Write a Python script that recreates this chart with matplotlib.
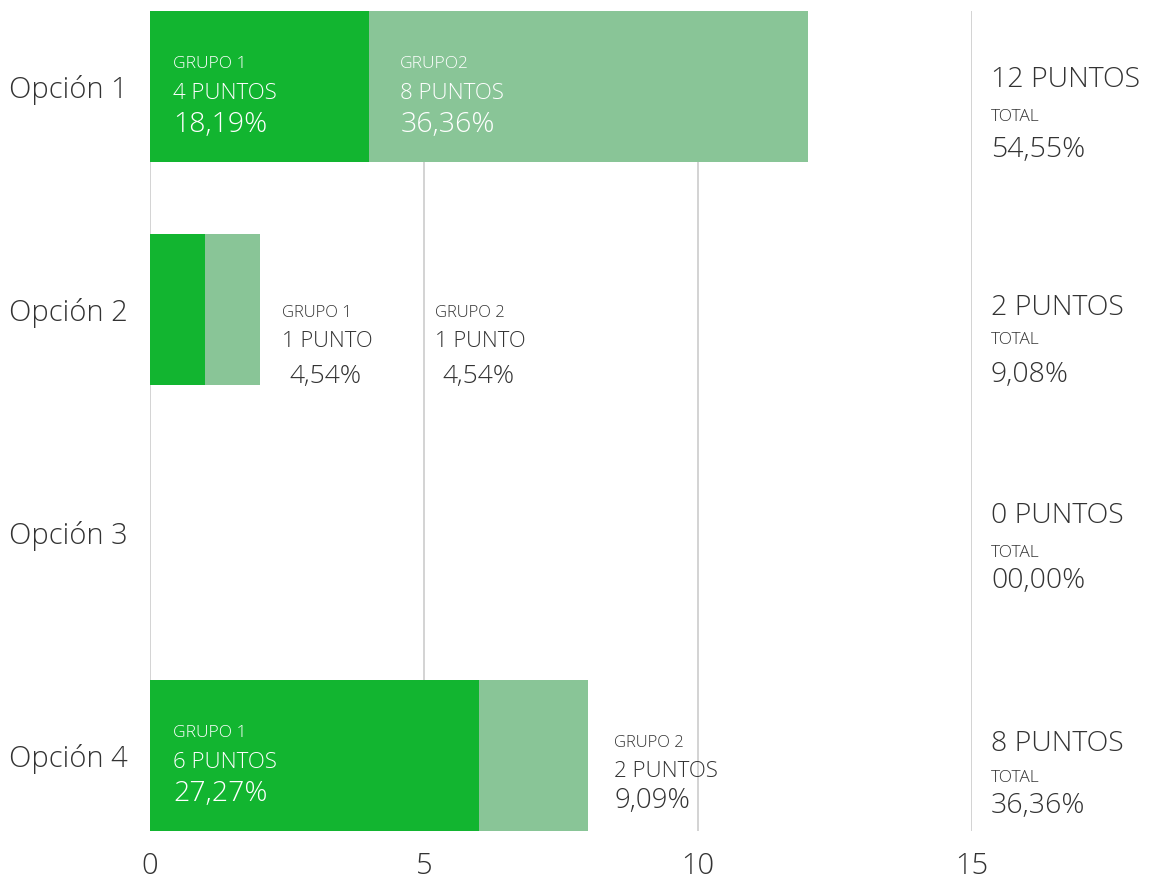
import matplotlib
matplotlib.use("Agg")
import matplotlib.pyplot as plt
from matplotlib import font_manager

# ---- data ---------------------------------------------------------------
categories = ["Opción 1", "Opción 2", "Opción 3", "Opción 4"]
grupo1 = [4, 1, 0, 6]
grupo2 = [8, 1, 0, 2]
grupo1_pct = ["18,19%", "4,54%", "", "27,27%"]
grupo2_pct = ["36,36%", "4,54%", "", "9,09%"]
grupo1_name = ["GRUPO 1", "GRUPO 1", "", "GRUPO 1"]
grupo2_name = ["GRUPO2", "GRUPO 2", "", "GRUPO 2"]
total_pct = ["54,55%", "9,08%", "00,00%", "36,36%"]
x_ticks = [0, 5, 10, 15]

# ---- style --------------------------------------------------------------
DARK = "#12b530"
LIGHT = "#89c597"
TEXT = "#333333"
GRID = "#cccccc"

names = {f.name for f in font_manager.fontManager.ttflist}
FAMILY = ["Open Sans", "DejaVu Sans"] if "Open Sans" in names else ["DejaVu Sans"]
plt.rcParams["font.family"] = FAMILY
plt.rcParams["font.weight"] = "light"

fig = plt.figure(figsize=(11.52, 8.8), dpi=100)
ax = fig.add_axes([150 / 1152, 49 / 880, 822 / 1152, 820 / 880])

ypos = list(range(len(categories)))
bar_h = 0.677
ax.barh(ypos, grupo1, height=bar_h, color=DARK, zorder=2)
ax.barh(ypos, grupo2, left=grupo1, height=bar_h, color=LIGHT, zorder=2)

ax.set_xlim(0, 15)
ax.set_ylim(len(categories) - 1 + bar_h / 2, -bar_h / 2)
ax.set_xticks(x_ticks)
ax.set_xticklabels([str(t) for t in x_ticks])
ax.set_yticks(ypos)
ax.set_yticklabels(categories)
ax.tick_params(axis="x", length=0, pad=15, labelsize=21, labelcolor=TEXT)
ax.tick_params(axis="y", length=0, pad=16, labelsize=21, labelcolor=TEXT)
for lab in ax.get_xticklabels() + ax.get_yticklabels():
    lab.set_fontweight("light")
for s in ax.spines.values():
    s.set_visible(False)
ax.grid(axis="x", color=GRID, linewidth=1.2, zorder=0)
ax.set_axisbelow(True)

PX = 72 / 100  # pixels -> points


def puntos(n):
    return f"{n} PUNTO" + ("" if n == 1 else "S")


def block(x, y, dx, lines, color):
    """Stack of left-aligned lines; each line = (text, size, baseline px, extra dx px)."""
    for text, size, dy, ex in lines:
        ax.annotate(text, xy=(x, y), xytext=((dx + ex) * PX, -dy * PX),
                    textcoords="offset points", ha="left", va="baseline",
                    fontsize=size, color=color, fontweight="light", zorder=3,
                    annotation_clip=False)


# labels inside the bars
inside = [(0, 1, 23), (0, 2, 31), (3, 1, 23)]
for i, g, dx in inside:
    if g == 1:
        x0, name, n, pct = 0, grupo1_name[i], grupo1[i], grupo1_pct[i]
    else:
        x0, name, n, pct = grupo1[i], grupo2_name[i], grupo2[i], grupo2_pct[i]
    block(x0, i, dx, [(name, 12.5, -18.5, 0), (puntos(n), 16, 12.5, 0),
                      (pct, 20.5, 45.5, 0)], "white")

# labels outside the short bars of Opción 2
end2 = grupo1[1] + grupo2[1]
block(end2, 1, 22, [(grupo1_name[1], 12, 7.5, 0), (puntos(grupo1[1]), 15.8, 37.5, 0),
                    (grupo1_pct[1], 19, 73.5, 8)], TEXT)
block(end2, 1, 175, [(grupo2_name[1], 12, 7.5, 0), (puntos(grupo2[1]), 15.8, 37.5, 0),
                     (grupo2_pct[1], 19, 73.5, 8)], TEXT)

# second group of Opción 4, right of its bar
end4 = grupo1[3] + grupo2[3]
block(end4, 3, 26, [(grupo2_name[3], 12, -8.5, 0), (puntos(grupo2[3]), 16, 21.5, 0),
                    (grupo2_pct[3], 20, 52.5, 0)], TEXT)

# totals column on the right
total_offsets = [(0.5, 34.5, 70.5), (5.5, 34.5, 72.5), (-9.5, 24.5, 55.5), (-4.5, 26.5, 57.5)]
for i in ypos:
    tot = grupo1[i] + grupo2[i]
    a, b, c = total_offsets[i]
    block(15, i, 19, [(puntos(tot), 20.5, a, 0), ("TOTAL", 12.5, b, 0),
                      (total_pct[i], 20.5, c, 0)], TEXT)

fig.savefig("out.png", dpi=100, facecolor="white")
